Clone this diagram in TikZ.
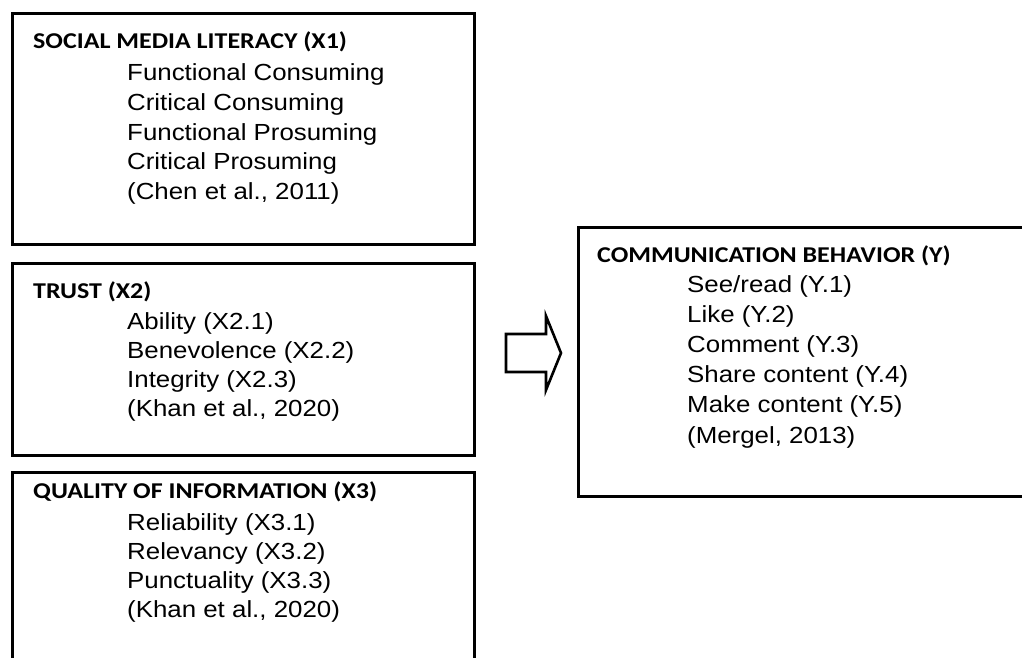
\documentclass[tikz,border=0pt]{standalone}
\usepackage{fontspec}
\newfontfamily\hfont[FakeStretch=1.15]{Carlito}
\newfontfamily\ifont[FakeStretch=1.11]{Liberation Sans}
\begin{document}
\begin{tikzpicture}[x=1pt,y=-1pt,
  box/.style={draw=black, line width=2.6pt, rectangle, inner sep=0pt, anchor=north west},
  head/.style={inner sep=0pt, anchor=base west, font=\hfont\bfseries\fontsize{22.6}{27}\selectfont},
  itm/.style={inner sep=0pt, anchor=base west, font=\ifont\fontsize{23.3}{28}\selectfont},
  blockarrow/.style={draw=black, line width=2.6pt, line join=miter}]
\clip (0,0) rectangle (1022,658);
\fill[white] (0,0) rectangle (1022,658);
% boxes
\node[box, minimum width=462pt, minimum height=231pt] (bx1) at (11,12) {};
\node[box, minimum width=462pt, minimum height=192pt] (bx2) at (11,262) {};
\node[box, minimum width=462pt, minimum height=230pt] (bx3) at (11,471) {};
\node[box, minimum width=480pt, minimum height=269pt] (by) at (577,226) {};
% X1
\node[head] (h1) at (33,49) {SOCIAL MEDIA LITERACY (X1)};
\foreach \t [count=\i from 0] in {Functional Consuming, Critical Consuming, Functional Prosuming, Critical Prosuming, {(Chen et al., 2011)}}
  \node[itm] (a\i) at (127,80.5+29.8*\i) {\t};
% X2
\node[head] (h2) at (33,298) {TRUST (X2)};
\foreach \t [count=\i from 0] in {Ability (X2.1), Benevolence (X2.2), Integrity (X2.3), {(Khan et al., 2020)}}
  \node[itm] (b\i) at (127,329+29.3*\i) {\t};
% X3
\node[head] (h3) at (33,498) {QUALITY OF INFORMATION (X3)};
\foreach \t [count=\i from 0] in {Reliability (X3.1), Relevancy (X3.2), Punctuality (X3.3), {(Khan et al., 2020)}}
  \node[itm] (c\i) at (127,530+29.2*\i) {\t};
% Y
\node[head] (hy) at (597,262) {COMMUNICATION BEHAVIOR (Y)};
\foreach \t [count=\i from 0] in {See/read (Y.1), Like (Y.2), Comment (Y.3), Share content (Y.4), Make content (Y.5), {(Mergel, 2013)}}
  \node[itm] (d\i) at (687,292+30.2*\i) {\t};
% block arrow
\draw[blockarrow] (506,334) -- (546,334) -- (546,316) -- (561,353) -- (546,390) -- (546,372) -- (506,372) -- cycle;
\end{tikzpicture}
\end{document}
